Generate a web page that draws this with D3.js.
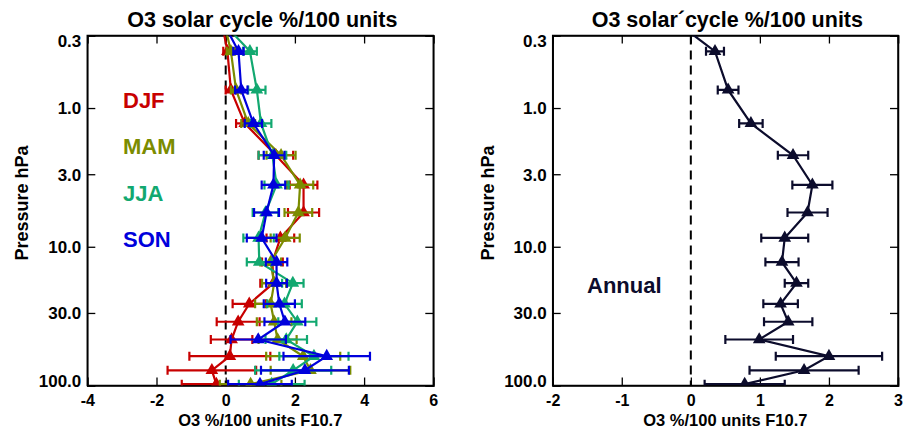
<!DOCTYPE html>
<html>
<head>
<meta charset="utf-8">
<script src="https://d3js.org/d3.v7.min.js"></script>
<style>
body { margin: 0; background: #fff; }
text { font-family: "Liberation Sans", Arial, sans-serif; font-weight: bold; }
</style>
</head>
<body>
<svg class="chart" width="903" height="429"></svg>
<script>
// pressure levels (hPa), first one lies above the plotted range
var levels = [0.21, 0.39, 0.74, 1.29, 2.19, 3.58, 5.66, 8.64, 12.9, 18.3, 25.8, 34.7, 46.6, 61.5, 77.7, 97.8];

// seasonal solar cycle response and 2 sigma errors
var djf = [-0.16, 0.05, 0.15, 0.55, 1.45, 2.25, 2.25, 1.58, 1.35, 1.38, 0.68, 0.36, 0.17, 0.12, -0.40, -0.27];
var djf_err = [0.10, 0.12, 0.15, 0.25, 0.50, 0.40, 0.45, 0.40, 0.30, 0.38, 0.48, 0.62, 0.60, 1.17, 1.28, 1.00];
var mam = [-0.10, 0.15, 0.30, 0.65, 1.60, 2.15, 2.10, 1.72, 1.30, 1.40, 1.30, 1.40, 1.50, 2.24, 2.45, 0.72];
var mam_err = [0.10, 0.12, 0.15, 0.20, 0.42, 0.38, 0.40, 0.42, 0.30, 0.35, 0.45, 0.50, 0.55, 1.07, 1.15, 0.89];
var jja = [-0.32, 0.70, 0.90, 1.02, 1.35, 1.47, 1.15, 0.95, 0.97, 1.94, 1.70, 2.07, 1.75, 2.55, 1.95, 1.33];
var jja_err = [0.15, 0.20, 0.25, 0.30, 0.40, 0.35, 0.37, 0.44, 0.36, 0.31, 0.50, 0.55, 0.60, 1.00, 1.10, 0.95];
var son = [-0.20, 0.37, 0.45, 0.80, 1.40, 1.38, 1.18, 1.04, 1.47, 1.47, 1.55, 1.71, 0.94, 2.92, 2.29, 0.99];
var son_err = [0.15, 0.15, 0.18, 0.25, 0.30, 0.34, 0.36, 0.43, 0.31, 0.30, 0.45, 0.59, 0.80, 1.25, 1.27, 0.92];

// annual mean response
var annual = [-0.37, 0.35, 0.54, 0.87, 1.48, 1.76, 1.69, 1.36, 1.32, 1.53, 1.30, 1.41, 0.99, 2.00, 1.64, 0.78];
var annual_err = [0.12, 0.13, 0.15, 0.17, 0.22, 0.29, 0.29, 0.34, 0.24, 0.17, 0.25, 0.35, 0.49, 0.77, 0.79, 0.58];

var seasons = ["DJF", "MAM", "JJA", "SON"];
var season_colors = ["#c80000", "#7b8c00", "#12a870", "#0000dc"];

var y_ticks = [0.3, 1, 3, 10, 30, 100];
var y_labels = ["0.3", "1.0", "3.0", "10.0", "30.0", "100.0"];
var title = "O3 solar cycle %/100 units";
var title_right = "O3 solar\u00b4cycle %/100 units";
var x_title = "O3 %/100 units F10.7";

var top_y = 35.5;
var bottom_y = 385.5;

var svg = d3.select(".chart");

// draw one panel with its axes, returns the group and the scales
function make_panel(left, right, xdomain, xticks, id, ttl) {
	var x = d3.scaleLinear().domain(xdomain).range([left, right]);
	var y = d3.scaleLog().domain([0.3, 100]).range([top_y, bottom_y]);
	var g = svg.append("g");

	g.append("clipPath").attr("id", id)
	.append("rect")
		.attr("x", left).attr("y", top_y)
		.attr("width", right - left).attr("height", bottom_y - top_y);

	// zero line
	g.append("line")
		.attr("x1", x(0)).attr("x2", x(0))
		.attr("y1", top_y).attr("y2", bottom_y)
		.attr("stroke", "#000").attr("stroke-width", 2)
		.attr("stroke-dasharray", "9,6");

	// axes, ticks inside the frame
	var xa = g.append("g")
		.attr("transform", "translate(0," + bottom_y + ")")
		.call(d3.axisBottom(x).tickValues(xticks).tickSize(-8).tickPadding(9.5)
			.tickFormat(function(d) { return String(d); }))
		.call(style_axis);
	xa.selectAll(".tick text").style("font-size", "16px");
	g.append("g")
		.attr("transform", "translate(0," + top_y + ")")
		.call(d3.axisTop(x).tickValues(xticks).tickSize(-8).tickFormat(""))
		.call(style_axis);
	var ya = g.append("g")
		.attr("transform", "translate(" + left + ",0)")
		.call(d3.axisLeft(y).tickValues(y_ticks).tickSize(-8).tickPadding(6)
			.tickFormat(function(d, i) { return y_labels[i]; }))
		.call(style_axis);
	ya.selectAll(".tick text")
		.attr("dy", function(d, i) {
			if (i == 0) return "0.65em";
			if (i == y_ticks.length - 1) return "0.05em";
			return "0.35em";
		});
	g.append("g")
		.attr("transform", "translate(" + right + ",0)")
		.call(d3.axisRight(y).tickValues(y_ticks).tickSize(-8).tickFormat(""))
		.call(style_axis);

	g.selectAll(".domain").attr("stroke", "#000").attr("stroke-width", 1.5);

	// frame
	g.append("rect")
		.attr("x", left).attr("y", top_y)
		.attr("width", right - left).attr("height", bottom_y - top_y)
		.attr("fill", "none").attr("stroke", "#000").attr("stroke-width", 1.5);

	// titles
	g.append("text")
		.attr("x", (left + right) / 2 + 2).attr("y", 27)
		.attr("text-anchor", "middle").style("font-size", "21.5px")
		.text(ttl);
	g.append("text")
		.attr("x", (left + right) / 2).attr("y", 425.5)
		.attr("text-anchor", "middle").style("font-size", "16.5px")
		.text(x_title);
	g.append("text")
		.attr("transform", "translate(" + (left - 59) + ",203) rotate(-90)")
		.attr("text-anchor", "middle").style("font-size", "18px")
		.text("Pressure hPa");

	return {g: g, x: x, y: y, clip: id};
}

function style_axis(a) {
	a.selectAll(".tick line").attr("stroke", "#000").attr("stroke-width", 1.3);
	a.selectAll(".tick text").attr("fill", "#000").style("font-size", "17px")
		.style("font-family", "'Liberation Sans', Arial, sans-serif").style("font-weight", "bold");
}

// draw a profile with error bars and triangles
function draw_profile(p, vals, errs, color) {
	var pts = levels.map(function(l, i) { return {p: l, v: vals[i], e: errs[i]}; });
	var s = p.g.append("g").attr("clip-path", "url(#" + p.clip + ")");

	var line = d3.line()
		.x(function(d) { return p.x(d.v); })
		.y(function(d) { return p.y(d.p); });
	s.append("path")
		.datum(pts)
		.attr("d", line)
		.attr("fill", "none").attr("stroke", color).attr("stroke-width", 2.2);

	var bar = s.selectAll(".err")
		.data(pts)
	.enter().append("g");
	bar.append("line")
		.attr("x1", function(d) { return p.x(d.v - d.e); })
		.attr("x2", function(d) { return p.x(d.v + d.e); })
		.attr("y1", function(d) { return p.y(d.p); })
		.attr("y2", function(d) { return p.y(d.p); })
		.attr("stroke", color).attr("stroke-width", 2.2);
	[-1, 1].forEach(function(sg) {
		bar.append("line")
			.attr("x1", function(d) { return p.x(d.v + sg * d.e); })
			.attr("x2", function(d) { return p.x(d.v + sg * d.e); })
			.attr("y1", function(d) { return p.y(d.p) - 4.5; })
			.attr("y2", function(d) { return p.y(d.p) + 4.5; })
			.attr("stroke", color).attr("stroke-width", 2.2);
	});

	s.selectAll(".tri")
		.data(pts)
	.enter().append("path")
		.attr("d", d3.symbol().type(d3.symbolTriangle).size(70))
		.attr("transform", function(d) { return "translate(" + p.x(d.v) + "," + p.y(d.p) + ")"; })
		.attr("fill", color);
}

var left_panel = make_panel(87.3, 433.3, [-4, 6], [-4, -2, 0, 2, 4, 6], "clipL", title);
var right_panel = make_panel(552.7, 898, [-2, 3], [-2, -1, 0, 1, 2, 3], "clipR", title_right);

var season_vals = [djf, mam, jja, son];
var season_errs = [djf_err, mam_err, jja_err, son_err];
for (var i = 0; i < seasons.length; i++) {
	draw_profile(left_panel, season_vals[i], season_errs[i], season_colors[i]);
	svg.append("text")
		.attr("x", 123).attr("y", 108.3 + i * 46.1)
		.attr("fill", season_colors[i]).style("font-size", "22px")
		.text(seasons[i]);
}

draw_profile(right_panel, annual, annual_err, "#0c0c2c");
svg.append("text")
	.attr("x", 587).attr("y", 293.3)
	.attr("fill", "#0c0c2c").style("font-size", "22px")
	.text("Annual");
</script>
</body>
</html>
